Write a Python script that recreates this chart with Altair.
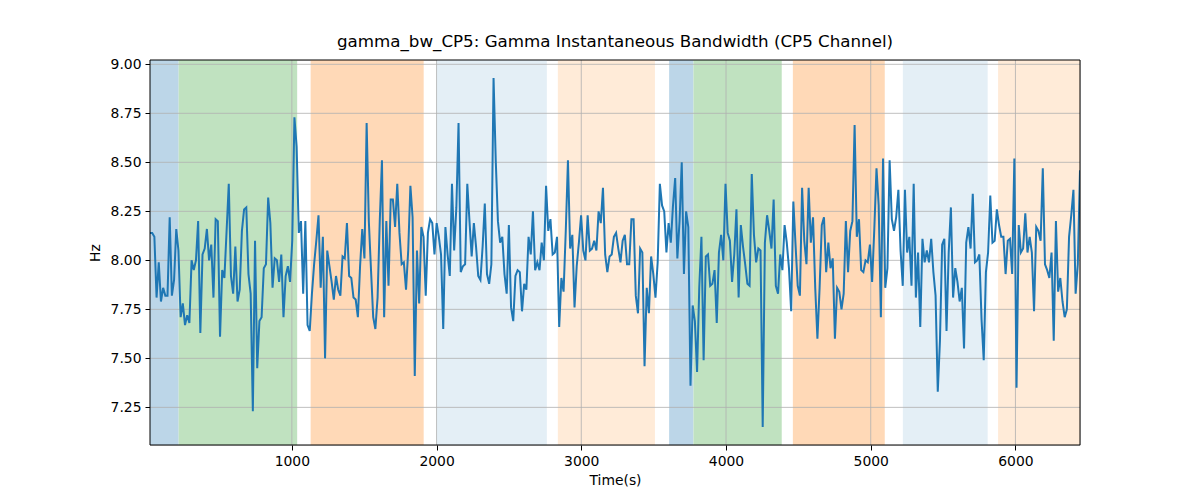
import altair as alt
import pandas as pd

# ---- data ----
SAMPLE_START = 20.0   # first sample time (s)
SAMPLE_STEP = 15.12   # sampling interval (s)

seg1 = [8.14, 8.14, 8.12, 7.81, 7.99, 7.79, 7.86, 7.82, 7.82, 8.22,
        7.82, 7.90, 8.16, 8.05, 7.71, 7.78, 7.67, 7.72, 7.68, 8.00,
        7.95, 8.00, 8.20, 7.63, 8.03, 8.06, 8.16, 8.00, 8.08, 7.81,
        8.21, 8.20, 7.61, 7.95, 7.91, 8.15, 8.39, 7.92, 7.83, 8.07,
        7.79, 7.85, 8.15, 8.26, 8.27, 7.93, 7.83, 7.23, 8.10, 7.45,
        7.69, 7.71, 7.96, 7.98, 8.32, 8.19, 7.86, 8.01, 8.00, 7.89,
        8.03, 7.71, 7.92, 7.97, 7.89, 8.10, 8.73, 8.58, 8.14, 8.20]
seg2 = [7.83, 8.20, 7.67, 7.64, 7.83, 7.98, 8.10, 8.23, 7.86, 8.12,
        7.50, 8.05, 7.97, 7.89, 7.80, 7.92, 7.85, 7.82, 8.02, 8.01,
        8.19, 7.92, 7.91, 7.81, 7.80, 7.71, 7.97, 8.16, 8.01, 8.70,
        8.20, 7.95, 7.71, 7.65, 7.81, 8.20, 8.51, 7.71, 8.20, 7.87,
        8.31, 8.31, 8.17, 8.39, 8.14, 7.98, 7.99, 7.85, 8.05, 8.38,
        8.22, 7.41, 8.05, 7.78, 8.17, 8.12, 7.82, 8.14, 8.21, 8.19,
        8.03, 8.19, 8.12, 8.03, 7.65, 8.17, 8.03, 7.92, 8.39, 8.05,
        8.27, 8.70]
seg3 = [7.94, 7.97, 7.98, 8.39, 8.20, 8.02, 8.19, 8.07, 7.92, 7.90,
        8.07, 8.29, 7.93, 7.88, 7.98, 8.93, 8.51, 8.20, 8.09, 8.12,
        7.93, 7.83, 8.18, 7.76, 7.69, 7.92, 7.95, 7.94, 7.74, 7.88,
        7.85, 8.12, 8.03, 8.25, 7.95, 7.99, 7.95, 8.09, 8.00, 8.38,
        8.15, 8.21, 8.03, 8.04, 8.12, 7.66, 7.91, 7.84, 8.15, 8.51,
        8.06, 8.13, 7.76, 7.97, 8.09, 8.23, 8.05, 8.00, 8.23, 8.05,
        8.06, 8.10, 8.05, 8.25, 8.19, 8.37, 8.03, 7.94]
seg4 = [8.02, 8.03, 8.12, 8.14, 8.06, 7.99, 8.10, 8.13, 7.98, 7.98,
        8.21, 8.21, 7.82, 7.73, 8.06, 8.04, 7.46, 7.86, 7.73, 8.02,
        7.93, 7.81, 7.99, 8.39, 8.28, 8.25, 8.04, 8.19, 8.09, 8.28,
        8.42, 8.01, 8.20, 8.50, 7.93, 8.25, 8.17, 7.36, 7.77, 7.69,
        7.43, 7.86, 8.12, 7.49, 8.02, 8.03, 7.87, 7.88, 7.95, 7.68,
        8.04, 8.13, 8.00, 8.39, 8.14, 8.10, 7.89, 8.03, 8.26, 7.81,
        8.18, 8.07, 7.98, 7.88, 7.87, 8.44, 8.13, 7.99, 8.06, 8.05,
        7.15, 8.09]
seg5 = [8.23, 8.15, 8.06, 8.31, 7.87, 7.83, 8.03, 7.95, 8.18, 8.09,
        7.96, 7.74, 8.30, 8.08, 7.87, 7.82, 8.37, 8.10, 7.98, 8.37,
        8.09, 8.22, 7.86, 7.60, 7.86, 8.18, 8.22, 7.94, 8.09, 7.96,
        8.01, 7.60, 7.86, 7.84, 7.75, 7.83, 8.20, 7.94, 8.15, 8.20,
        8.69, 8.12, 8.21, 7.95, 7.94, 8.00, 7.99, 8.08, 7.89, 8.16,
        8.47, 8.28, 7.71, 8.52, 7.86, 7.96, 8.51, 8.21, 8.15, 8.22,
        8.36, 8.05, 7.87, 8.36, 8.04, 8.12, 7.87, 8.39, 7.81]
seg6 = [8.04, 7.66, 8.11, 7.99, 8.05, 7.99, 8.11, 7.94, 7.82, 7.33,
        7.59, 8.08, 8.11, 7.64, 8.04, 8.27, 7.81, 7.96, 7.89, 7.79,
        7.86, 7.55, 8.09, 8.17, 8.06, 8.34, 7.99, 8.00, 8.03, 7.70,
        7.49, 7.94, 8.04, 8.33, 8.09, 8.10, 8.26, 8.18, 8.12, 8.12,
        7.93, 8.10, 8.11, 7.93, 8.52, 7.35, 8.18, 8.04, 8.06, 8.24,
        8.04, 8.12, 8.04, 7.74, 8.17, 8.15, 8.10, 8.47, 7.98, 7.95,
        7.91, 8.04, 7.59, 8.20, 7.84, 7.91, 7.79, 7.71, 7.75, 8.12,
        8.23, 8.36, 7.83, 7.98, 8.46]

band_start = [0, 218, 1130, 2000, 2838, 3607, 3775, 4462, 5222, 5880]
band_end = [218, 1037, 1911, 2762, 3509, 3775, 4385, 5097, 5808, 6460]
band_kind = ["blue", "green", "orange", "lightblue", "lightorange",
             "blue", "green", "orange", "lightblue", "lightorange"]
kind_names = ["blue", "green", "orange", "lightblue", "lightorange"]
kind_colors = ["#1f77b4", "#2ca02c", "#ff7f0e", "#1f77b4", "#ff7f0e"]
kind_alpha = [0.3, 0.3, 0.3, 0.12, 0.16]

x_ticks = [1000, 2000, 3000, 4000, 5000, 6000]
y_ticks = [7.25, 7.50, 7.75, 8.00, 8.25, 8.50, 8.75, 9.00]
y_domain = [7.058, 9.022]

TITLE = "gamma_bw_CP5: Gamma Instantaneous Bandwidth (CP5 Channel)"


def blend(hex_color, alpha):
    """Colour of hex_color at the given alpha over white."""
    r, g, b = (int(hex_color[i:i + 2], 16) for i in (1, 3, 5))
    mix = lambda c: round(alpha * c + (1 - alpha) * 255)
    return "#{:02x}{:02x}{:02x}".format(mix(r), mix(g), mix(b))


kind_fill = [blend(c, a) for c, a in zip(kind_colors, kind_alpha)]

# ---- build tables ----
values = seg1 + seg2 + seg3 + seg4 + seg5 + seg6
times = [SAMPLE_START + i * SAMPLE_STEP for i in range(len(values))]
df = pd.DataFrame({"t": times, "v": values})
bands = pd.DataFrame({"start": band_start, "end": band_end, "kind": band_kind})
W, H = 930, 385
FONT = "DejaVu Sans"

xscale = alt.Scale(domain=[times[0], times[-1]], nice=False, zero=False)
yscale = alt.Scale(domain=y_domain, nice=False, zero=False)
axis_common = dict(grid=False, domain=False, ticks=True, tickColor="black",
                   tickSize=5, tickWidth=1, labelFont=FONT, labelFontSize=13.9,
                   labelColor="black", labelPadding=4, titleFont=FONT,
                   titleFontSize=13.9, titleFontWeight="normal", titleColor="black")
xaxis = alt.Axis(title="Time(s)", values=x_ticks, format="d", titlePadding=6, **axis_common)
yaxis = alt.Axis(title="Hz", values=y_ticks, format=".2f", titlePadding=8, **axis_common)

band_layer = alt.Chart(bands).mark_rect(clip=True).encode(
    x=alt.X("start:Q", scale=xscale, axis=xaxis),
    x2="end:Q",
    color=alt.Color("kind:N", scale=alt.Scale(domain=kind_names, range=kind_fill), legend=None),
)

gx = alt.Chart(pd.DataFrame({"gx": x_ticks})).mark_rule(color="#b0b0b0", strokeWidth=0.8).encode(
    x=alt.X("gx:Q", scale=xscale, axis=xaxis))
gy = alt.Chart(pd.DataFrame({"gy": y_ticks})).mark_rule(color="#b0b0b0", strokeWidth=0.8).encode(
    y=alt.Y("gy:Q", scale=yscale, axis=yaxis))

line = alt.Chart(df).mark_line(color="#1f77b4", strokeWidth=2, clip=True).encode(
    x=alt.X("t:Q", scale=xscale, axis=xaxis),
    y=alt.Y("v:Q", scale=yscale, axis=yaxis),
)

one = pd.DataFrame({"a": [0]})
frame_style = dict(color="black", strokeWidth=1)
top = alt.Chart(one).mark_rule(**frame_style).encode(x=alt.value(0), x2=alt.value(W), y=alt.value(0))
bottom = alt.Chart(one).mark_rule(**frame_style).encode(x=alt.value(0), x2=alt.value(W), y=alt.value(H))
left = alt.Chart(one).mark_rule(**frame_style).encode(x=alt.value(0), y=alt.value(0), y2=alt.value(H))
right = alt.Chart(one).mark_rule(**frame_style).encode(x=alt.value(W), y=alt.value(0), y2=alt.value(H))

chart = alt.layer(band_layer, gx, gy, line, top, bottom, left, right).properties(
    width=W, height=H,
    autosize=alt.AutoSizeParams(type="none"),
    padding={"left": 142, "top": 52, "right": 112, "bottom": 47},
    title=alt.TitleParams(text=TITLE, font=FONT, fontSize=16.7, fontWeight="normal",
                          color="black", anchor="middle", offset=7),
).configure_view(stroke=None).configure(background="white")

chart.save("out.html", embed_options={"renderer": "svg", "actions": False})
